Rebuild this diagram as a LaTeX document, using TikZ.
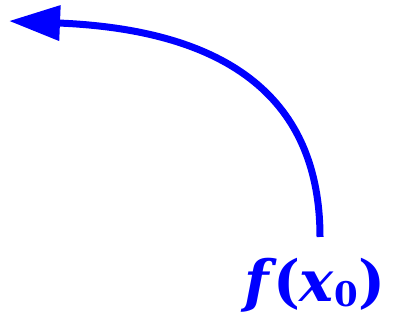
\documentclass[tikz,border=0pt]{standalone}
\usepackage{fontspec}
\newfontfamily\lblfont{DejaVu Serif}
\usetikzlibrary{arrows.meta}
\definecolor{arrblue}{RGB}{0,0,255}
\tikzset{
  bluearrow/.style={draw=arrblue, line width=7pt, -{Triangle[length=51pt,width=34pt]}},
  lbl/.style={text=arrblue, inner sep=0pt, font=\lblfont\bfseries\fontsize{57}{60}\selectfont}
}
\begin{document}
\begin{tikzpicture}[x=1pt,y=1pt]
\useasboundingbox (0,0) rectangle (393,326);
\coordinate (start) at (320,89);
\coordinate (tip) at (9,305);
\node[lbl, anchor=base] (label) at (315,24) {\textit{f}\kern-0.08em(\textit{x}\raisebox{-0.08em}{\fontsize{34}{36}\selectfont 0})};
\draw[bluearrow] (start) .. controls (320,226) and (230,296) .. (tip);
\end{tikzpicture}
\end{document}
